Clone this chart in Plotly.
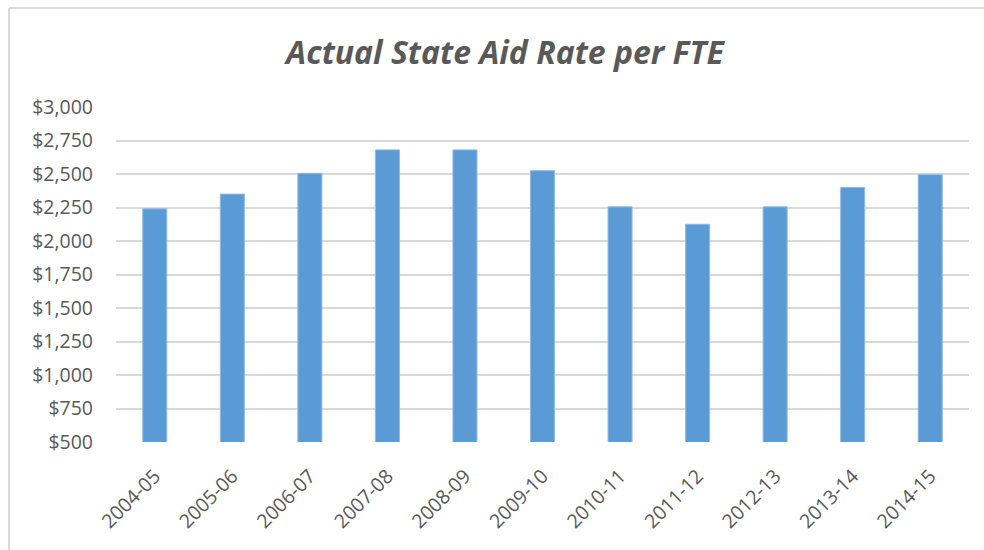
import plotly.graph_objects as go

categories = ["2004-05", "2005-06", "2006-07", "2007-08", "2008-09", "2009-10",
              "2010-11", "2011-12", "2012-13", "2013-14", "2014-15"]
aid_rate = [2240, 2350, 2505, 2680, 2680, 2525, 2255, 2125, 2255, 2400, 2495]
y_ticks = [500, 750, 1000, 1250, 1500, 1750, 2000, 2250, 2500, 2750, 3000]
y_tick_labels = ["$" + format(v, ",") for v in y_ticks]

W, H = 984, 550
L, R, T, B = 116, 15, 107, 108
pw, ph = W - L - R, H - T - B

def px_x(p):
    return (p - L) / pw

def px_y(p):
    return (H - B - p) / ph

fig = go.Figure(go.Bar(
    x=categories, y=aid_rate,
    marker=dict(color="#5b9bd5", line=dict(color="#8fbbe4", width=1)),
    width=0.31,
))

border = dict(color="#d9d9d9", width=2)
fig.update_layout(
    width=W, height=H,
    margin=dict(l=L, r=R, t=T, b=B),
    paper_bgcolor="white", plot_bgcolor="white",
    showlegend=False,
    font=dict(family="Open Sans", color="#595959"),
    title=dict(
        text="<b><i>Actual State Aid Rate per FTE</i></b>",
        x=505 / W, xanchor="center", xref="container",
        y=1 - 53 / H, yanchor="middle", yref="container",
        font=dict(size=32, color="#595959", family="Open Sans"),
    ),
    xaxis=dict(
        type="category", automargin=False,
        tickangle=-45, tickfont=dict(size=19.5, color="#595959"),
        showgrid=False, showline=False, ticks="", ticklen=0,
        ticklabelstandoff=18,
    ),
    yaxis=dict(
        automargin=False,
        range=[500, 3000], tickvals=y_ticks, ticktext=y_tick_labels,
        tickfont=dict(size=19.5, color="#595959"),
        showgrid=True, gridcolor="#d9d9d9", gridwidth=2,
        zeroline=False, showline=False, ticks="",
        ticklabelstandoff=22,
    ),
    shapes=[
        dict(type="line", xref="paper", yref="paper",
             x0=px_x(9), x1=px_x(9), y0=px_y(8), y1=px_y(H), line=border),
        dict(type="line", xref="paper", yref="paper",
             x0=px_x(9), x1=px_x(W), y0=px_y(8), y1=px_y(8), line=border),
    ],
)

fig.write_html("out.html",
               config={"displayModeBar": False},
               post_script="document.body.style.margin='0';document.body.style.overflow='hidden';")
